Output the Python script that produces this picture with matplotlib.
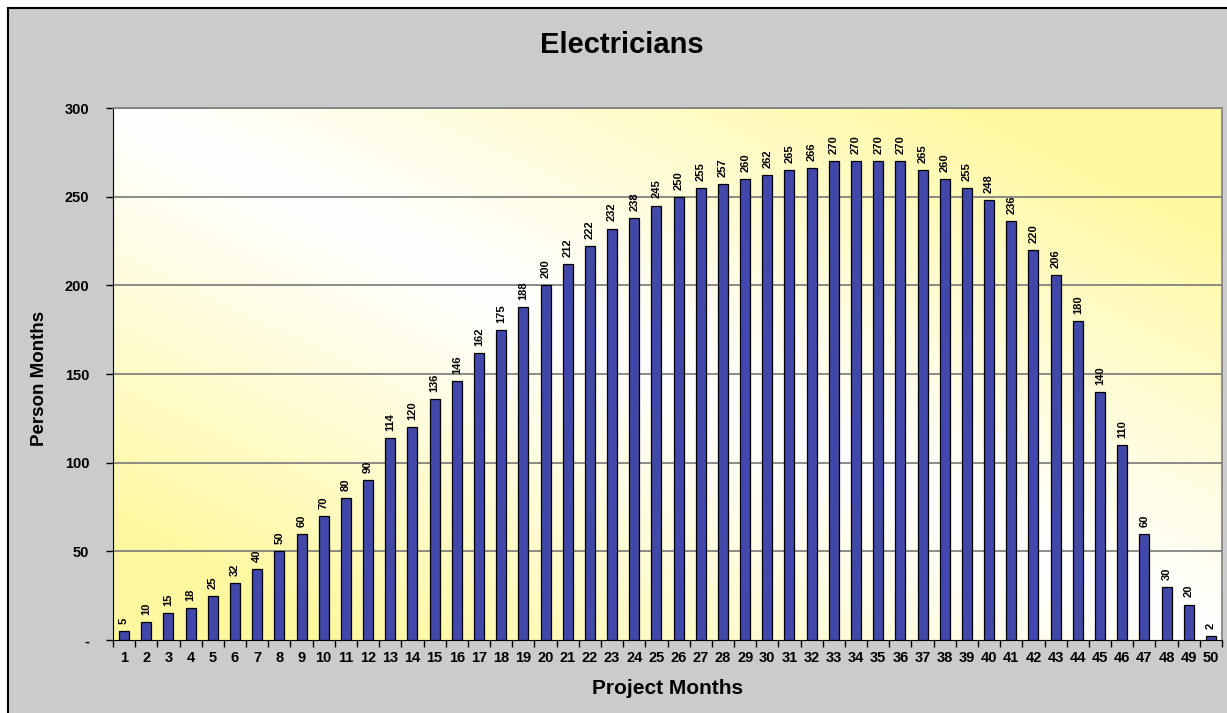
import numpy as np
import matplotlib
matplotlib.use("Agg")
import matplotlib.pyplot as plt
from matplotlib.patches import Rectangle

plt.rcParams['font.family'] = ['Liberation Sans', 'DejaVu Sans']

months = list(range(1, 51))
person_months = [5, 10, 15, 18, 25, 32, 40, 50, 60, 70, 80, 90, 114, 120, 136, 146, 162, 175, 188, 200,
                 212, 222, 232, 238, 245, 250, 255, 257, 260, 262, 265, 266, 270, 270, 270, 270, 265, 260, 255, 248,
                 236, 220, 206, 180, 140, 110, 60, 30, 20, 2]
y_ticks = [0, 50, 100, 150, 200, 250, 300]
y_tick_labels = ['-', '50', '100', '150', '200', '250', '300']

W, H = 1227, 713
fig = plt.figure(figsize=(W / 100, H / 100), dpi=100)
fig.patch.set_facecolor('white')

# gray chart area, cut off on the right and bottom
bg = Rectangle((8 / W, -0.1), 1.2, 1 - 8 / H + 0.1, transform=fig.transFigure,
               facecolor='#cbcbcb', edgecolor='black', linewidth=1.5, zorder=-10)
fig.patches.append(bg)

left, top, right, bottom = 113, 108, 1222, 640
ax = fig.add_axes([left / W, 1 - bottom / H, (right - left) / W, (bottom - top) / H])
ax.set_facecolor('none')

# diagonal white/yellow gradient
gx, gy = np.meshgrid(np.linspace(0, 1, 300), np.linspace(0, 1, 300))
d = np.clip(np.abs(gx - gy) * 1.25, 0, 1) ** 1.1
white = np.array([1.0, 1.0, 1.0])
yellow = np.array([1.0, 0.975, 0.62])
img = white[None, None, :] * (1 - d[..., None]) + yellow[None, None, :] * d[..., None]
ax.imshow(img, extent=[0, 1, 0, 1], transform=ax.transAxes, aspect='auto', zorder=0)

x = np.arange(len(months))
bars = ax.bar(x, person_months, width=0.45, color='#4248aa', edgecolor='black', linewidth=0.9, zorder=3)

for xi, v in zip(x, person_months):
    ax.text(xi, v + 4, str(v), rotation=90, ha='center', va='bottom', fontsize=8,
            fontweight='bold', zorder=4)

ax.set_xlim(-0.5, len(months) - 0.5)
ax.set_ylim(0, 300)
ax.set_yticks(y_ticks)
ax.set_yticklabels(y_tick_labels, fontsize=10.5, fontweight='bold')
ax.set_xticks(x)
ax.set_xticklabels([str(m) for m in months], fontsize=10.5, fontweight='bold')
ax.set_xticks(np.arange(-0.5, len(months)), minor=True)
ax.tick_params(axis='x', which='major', length=0, pad=8)
ax.tick_params(axis='x', which='minor', length=5, width=1, color='black', direction='out')
ax.tick_params(axis='y', length=5, width=1, direction='out', pad=12)

for yv in y_ticks[1:]:
    ax.axhline(yv, color='#777777', linewidth=1.2, zorder=1)

for s in ['top', 'right']:
    ax.spines[s].set_color('#808080')
    ax.spines[s].set_linewidth(1.2)
ax.spines['left'].set_color('black')
ax.spines['bottom'].set_color('black')

fig.text(40 / W, 1 - 378 / H, 'Person Months', rotation=90, ha='center', va='center',
         fontsize=13.5, fontweight='bold')
fig.text(668 / W, 1 - 689 / H, 'Project Months', ha='center', va='center',
         fontsize=15, fontweight='bold')
fig.text(622 / W, 1 - 45 / H, 'Electricians', ha='center', va='center',
         fontsize=21, fontweight='bold')

fig.savefig('out.png', dpi=100)
